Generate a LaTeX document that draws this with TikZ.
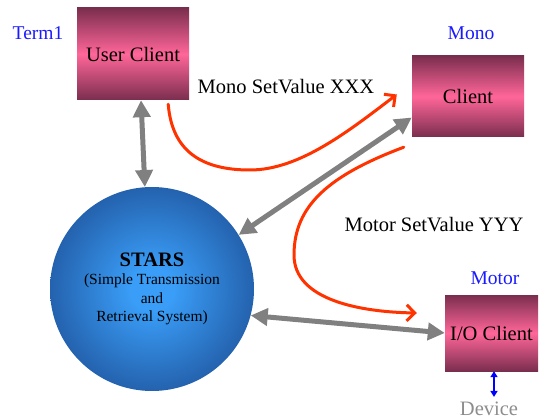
\documentclass[tikz,border=0pt]{standalone}
\usepackage{fontspec}
\setmainfont{Liberation Serif}
\usetikzlibrary{arrows.meta}
\definecolor{boxdark}{HTML}{7A2E4E}
\definecolor{boxpink}{HTML}{FF6699}
\definecolor{stardark}{HTML}{163A6E}
\definecolor{starmid}{HTML}{2462AE}
\definecolor{starlight}{HTML}{3A9EF8}
\definecolor{msgred}{HTML}{FF3300}
\definecolor{linkgray}{HTML}{808080}
\definecolor{tagblue}{HTML}{1A1AFF}
\pgfdeclareradialshading{starball}{\pgfpoint{0bp}{0bp}}{color(0bp)=(starlight); color(5bp)=(starlight); color(25bp)=(starmid); color(50bp)=(stardark)}
\begin{document}
\begin{tikzpicture}[x=1pt,y=-1pt,
  client/.style={inner sep=0pt,top color=boxdark,bottom color=boxdark,middle color=boxpink,
    font=\fontsize{20.5}{24}\selectfont},
  tag/.style={inner sep=0pt,text=tagblue,font=\fontsize{19.5}{22}\selectfont},
  msg/.style={inner sep=0pt,font=\fontsize{20.5}{24}\selectfont},
  link/.style={linkgray,line width=5pt,{Triangle[length=17pt,width=17pt]}-{Triangle[length=17pt,width=17pt]}},
  reqarrow/.style={msgred,line width=3pt,line cap=round,-{Straight Barb[length=8pt,width=16pt]}}]
\useasboundingbox (0,0) rectangle (542,420);

\node[client,minimum width=112pt,minimum height=92pt] (uc) at (133,54) {User Client};
\node[client,minimum width=112pt,minimum height=81pt] (mono) at (468,96.5) {Client};
\node[client,minimum width=93pt,minimum height=76pt] (io) at (491.5,333) {I/O Client};
\node[circle,inner sep=0pt,minimum size=204pt,shading=starball,
  align=center,font=\fontsize{15.5}{18.5}\selectfont] (stars) at (152,289)
  {{\fontsize{20.5}{22}\selectfont\bfseries STARS}\\(Simple Transmission\\and\\Retrieval System)};

\node[tag] (term) at (38,33) {Term1};
\node[tag] (monotag) at (471,33) {Mono};
\node[tag] (motortag) at (495,278) {Motor};
\node[msg] (xxx) at (286,87) {Mono SetValue XXX};
\node[msg] (yyy) at (434,225) {Motor SetValue YYY};
\node[msg,text=linkgray!90] (dev) at (489,409) {Device};

% links to STARS
\draw[link] ([xshift=8pt]uc.south) -- (stars.94.5);
\draw[link] (stars.32) -- ([yshift=-21pt]mono.west);
\draw[link] (stars.-15) -- (io.west);
\draw[blue,line width=2pt,{Triangle[length=6pt,width=7pt]}-{Triangle[length=6pt,width=7pt]}]
  ([xshift=2.5pt]io.south) -- ([xshift=5pt,yshift=5pt]dev.north);

% set value requests
\coordinate (r1a) at ([xshift=-21pt,yshift=-4pt]uc.south east);
\coordinate (r1b) at ([xshift=-15pt,yshift=2pt]mono.west);
\draw[reqarrow] (r1a) .. controls (172,150) and (200,170) .. (250,170)
  .. controls (300,170) and (350,130) .. (r1b);
\coordinate (r2a) at ([xshift=-8pt,yshift=-10pt]mono.south west);
\coordinate (r2b) at ([xshift=-28pt,yshift=20pt]io.west);
\draw[reqarrow] (r2a) .. controls (330,175) and (294,205) .. (294,255)
  .. controls (294,300) and (360,312) .. (r2b);
\end{tikzpicture}
\end{document}
